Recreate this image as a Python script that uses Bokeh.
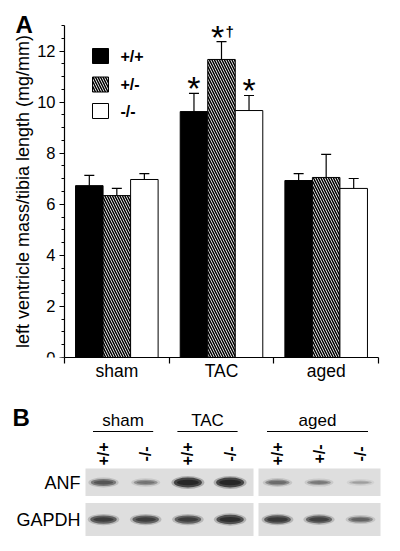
import numpy as np
from bokeh.plotting import figure
from bokeh.models import ColumnDataSource, Range1d, FixedTicker, Whisker, TeeHead
from bokeh.layouts import column
from bokeh.embed import file_html
from bokeh.resources import INLINE
from bokeh.core.properties import value

# ---------------- data (panel A) ----------------
groups = ["sham", "TAC", "aged"]
genotypes = ["+/+", "+/-", "-/-"]
mean_wt = [6.73, 9.63, 6.93]
mean_het = [6.34, 11.67, 7.05]
mean_ko = [6.97, 9.67, 6.62]
sem_wt = [0.40, 0.71, 0.27]
sem_het = [0.28, 0.70, 0.90]
sem_ko = [0.23, 0.59, 0.39]
sig_wt = ["", "*", ""]
sig_het = ["", "*†", ""]
sig_ko = ["", "*", ""]

# ---------------- data (panel B) ----------------
gel_groups = ["sham", "TAC", "aged"]
gel_lanes_per_group = [2, 2, 3]
gel_genotypes = ["+/+", "-/-", "+/+", "-/-", "+/+", "+/-", "-/-"]
gel_rows = ["ANF", "GAPDH"]
anf_signal = [0.55, 0.35, 1.0, 1.0, 0.40, 0.32, 0.12]
gapdh_signal = [0.75, 0.75, 0.75, 0.90, 0.80, 0.70, 0.45]

FONT = "Liberation Sans"

# ================= Panel A =================
W = 400
HA = 393
HB = 551 - HA
BOTTOM_BORDER = 36
FRAME_H = HA - BOTTOM_BORDER
AX_L, AX_R, AX_T = 64, 378, 25          # axis box in pixels
YMAX = 13
xpx = (AX_R - AX_L) / 3.0
ypx = (FRAME_H - AX_T) / YMAX

pA = figure(width=W, height=HA,
            x_range=Range1d(-AX_L / xpx, 3 + (W - AX_R) / xpx),
            y_range=Range1d(0, YMAX + AX_T / ypx),
            output_backend="svg", toolbar_location=None,
            min_border_left=0, min_border_right=0, min_border_top=0,
            min_border_bottom=BOTTOM_BORDER)
pA.outline_line_color = None
pA.xgrid.visible = False
pA.ygrid.visible = False

offsets = [-0.263, 0.0, 0.263]
bar_w = 0.263
HATCH = dict(hatch_color="black", hatch_scale=5, hatch_weight=1.5)
series = [
    (mean_wt, sem_wt, sig_wt, "black", None),
    (mean_het, sem_het, sig_het, "white", "\\"),
    (mean_ko, sem_ko, sig_ko, "white", None),
]

for k, (means, sems, sigs, fill, hatch) in enumerate(series):
    xs = [i + 0.5 + offsets[k] for i in range(len(groups))]
    ups = [m + s for m, s in zip(means, sems)]
    src = ColumnDataSource(dict(x=xs, top=means, up=ups))
    kw = dict(fill_color=fill, line_color="black", line_width=1)
    if hatch:
        kw.update(hatch_pattern=hatch, **HATCH)
    pA.vbar(x="x", top="top", bottom=0, width=bar_w, source=src, **kw)
    w = Whisker(source=src, base="x", lower="top", upper="up", dimension="height",
                lower_head=None, upper_head=TeeHead(size=10, line_width=1.2),
                line_width=1.2, line_color="black", level="overlay")
    pA.add_layout(w)
    for x, u, s in zip(xs, ups, sigs):
        if not s:
            continue
        star, rest = s[0], s[1:]
        dx = -4 / xpx if rest else 0
        pA.text(x=[x + dx], y=[u + 5 / ypx], text=[star], text_align="center",
                text_baseline="alphabetic", text_font=value(FONT), text_font_size="34px",
                text_color="black")
        if rest:
            pA.text(x=[x + 4 / xpx], y=[u + 10.5 / ypx], text=[rest], text_align="left",
                    text_baseline="middle", text_font=value(FONT), text_font_size="15px",
                    text_font_style="bold", text_color="black")

# legend (manual)
leg_x = (100 - AX_L) / xpx
leg_y = [(FRAME_H - py) / ypx for py in (55.5, 84, 110.5)]
for k, (means, sems, sigs, fill, hatch) in enumerate(series):
    kw = dict(fill_color=fill, line_color="black", line_width=1)
    if hatch:
        kw.update(hatch_pattern=hatch, **HATCH)
    pA.rect(x=[leg_x], y=[leg_y[k]], width=16, height=15, width_units="screen",
            height_units="screen", **kw)
    pA.text(x=[leg_x + 20 / xpx], y=[leg_y[k]], text=[genotypes[k]], text_align="left",
            text_baseline="middle", text_font=value(FONT), text_font_size="16px",
            text_font_style="bold", text_color="black")

# panel letter
pA.text(x=[(15 - AX_L) / xpx], y=[(FRAME_H - 23.5) / ypx], text=["A"], text_align="left",
        text_baseline="middle", text_font=value(FONT), text_font_size="24px",
        text_font_style="bold", text_color="black")

# axes
xa = pA.xaxis[0]
xa.bounds = (0, 3)
xa.ticker = FixedTicker(ticks=[0.5, 1.5, 2.5], minor_ticks=[0, 1, 2, 3])
xa.major_label_overrides = {0.5: groups[0], 1.5: groups[1], 2.5: groups[2]}
xa.major_tick_out = 0
xa.major_tick_in = 0
xa.minor_tick_out = 6
xa.minor_tick_in = 0
xa.major_label_standoff = -3
xa.major_label_text_font = FONT
xa.major_label_text_font_size = "17.5px"
xa.major_label_text_color = "black"
xa.axis_line_width = 1.2
xa.axis_line_color = "black"
xa.minor_tick_line_color = "black"
xa.minor_tick_line_width = 1.2

ya = pA.yaxis[0]
ya.fixed_location = 0
ya.bounds = (0, YMAX)
ya.ticker = FixedTicker(ticks=list(range(0, 13, 2)),
                        minor_ticks=[v * 0.5 for v in range(0, 27)])
ya.major_tick_out = 5
ya.major_tick_in = 0
ya.minor_tick_out = 3
ya.minor_tick_in = 0
ya.major_label_standoff = 4
ya.major_label_text_font = FONT
ya.major_label_text_font_size = "16.5px"
ya.major_label_text_color = "black"
ya.axis_label = "left ventricle mass/tibia length (mg/mm)"
ya.axis_label_text_font = FONT
ya.axis_label_text_font_size = "18px"
ya.axis_label_text_font_style = "normal"
ya.axis_label_text_color = "black"
ya.axis_label_standoff = 1
ya.axis_line_width = 1.2
ya.major_tick_line_width = 1.2
ya.minor_tick_line_width = 1

# ================= Panel B =================
pB = figure(width=W, height=HB, x_range=Range1d(0, W), y_range=Range1d(551, HA),
            output_backend="svg", toolbar_location=None, x_axis_type=None, y_axis_type=None,
            min_border=0)
pB.outline_line_color = None
pB.xgrid.visible = False
pB.ygrid.visible = False

box_lefts = [85, 258]
box_rights = [253, 380]
box_nlanes = [4, 3]
lane_pitch = [42.2, 41.5]
lane_inset = [18, 19]
lane_x = []
for b in range(2):
    for i in range(box_nlanes[b]):
        lane_x.append(box_lefts[b] + lane_inset[b] + lane_pitch[b] * i)

row_top = [468, 502.5]
row_bot = [495.5, 535.5]
row_center = [482, 519]

for r in range(2):
    pB.quad(left=box_lefts, right=box_rights, top=[row_top[r]] * 2, bottom=[row_bot[r]] * 2,
            fill_color="#dedede", line_color=None)

for r, sig in enumerate([anf_signal, gapdh_signal]):
    for x, I in zip(lane_x, sig):
        a = 0.12 + 0.83 * I
        w = 22 + 6 * I
        h = 3 + 7 * I
        pB.ellipse(x=[x], y=[row_center[r]], width=[w + 5], height=[h + 3],
                   fill_color="#111111", fill_alpha=0.25 * a, line_color=None)
        pB.ellipse(x=[x], y=[row_center[r]], width=[w], height=[h],
                   fill_color="#111111", fill_alpha=0.7 * a, line_color=None)
        pB.ellipse(x=[x], y=[row_center[r]], width=[w - 6], height=[h * 0.55],
                   fill_color="#111111", fill_alpha=0.6 * a, line_color=None)

start = 0
for g, n in zip(gel_groups, gel_lanes_per_group):
    xs = lane_x[start:start + n]
    cx = (xs[0] + xs[-1]) / 2 - 1.5
    half = (xs[-1] - xs[0]) / 2 + 9
    pB.text(x=[cx], y=[420], text=[g], text_align="center", text_baseline="middle",
            text_font=value(FONT), text_font_size="17px", text_color="black")
    pB.segment(x0=[cx - half], x1=[cx + half], y0=[431], y1=[431], line_color="black",
               line_width=1)
    start += n

pB.text(x=lane_x, y=[453.5] * len(lane_x), text=gel_genotypes, angle=np.pi / 2,
        text_align="center", text_baseline="middle", text_font=value(FONT),
        text_font_size="16px", text_font_style="bold", text_color="black")

pB.text(x=[80, 80], y=row_center, text=gel_rows, text_align="right", text_baseline="middle",
        text_font=value(FONT), text_font_size="18px", text_color="black")

pB.text(x=[12], y=[416.5], text=["B"], text_align="left", text_baseline="middle",
        text_font=value(FONT), text_font_size="24px", text_font_style="bold",
        text_color="black")

layout = column(pA, pB, spacing=0)
open("out.html", "w").write(file_html(layout, INLINE))
